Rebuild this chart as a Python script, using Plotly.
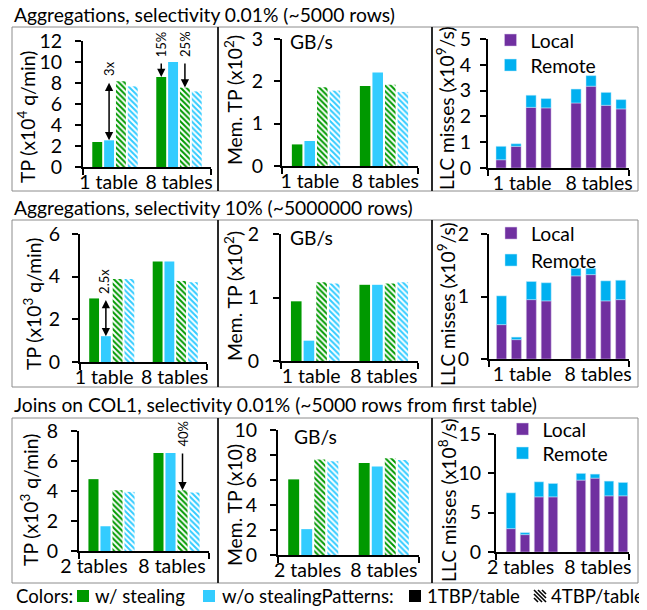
import plotly.graph_objects as go

W, H = 647, 610
OFF = 8  # page body margin offset in the browser
FONT = "Lato"
FS = 19.3      # general text size
KEY_FS = 18.6
TICK_FS = 19.5
GREEN = "#009900"
BLUE = "#33CCFF"
PURPLE = "#7030A0"
REMOTE = "#00B0F0"

# ---------------- data ----------------
row_titles = [
    "Aggregations, selectivity 0.01% (~5000 rows)",
    "Aggregations, selectivity 10% (~5000000 rows)",
    "Joins on COL1, selectivity 0.01% (~5000 rows from first table)",
]
cats_r1 = ["1 table", "8 tables"]
cats_r2 = ["1 table", "8 tables"]
cats_r3 = ["2 tables", "8 tables"]

series_names = ["w/ stealing, 1TBP/table", "w/o stealing, 1TBP/table",
                "w/ stealing, 4TBP/table", "w/o stealing, 4TBP/table"]

# Row 1 - throughput (x10^4 q/min)
r1_tp_ws_1 = [2.38, 8.57]
r1_tp_wo_1 = [2.54, 10.0]
r1_tp_ws_4 = [8.16, 7.56]
r1_tp_wo_4 = [7.68, 7.20]
# Row 1 - memory throughput (x10^2 GB/s)
r1_mem_ws_1 = [0.51, 1.89]
r1_mem_wo_1 = [0.59, 2.21]
r1_mem_ws_4 = [1.86, 1.92]
r1_mem_wo_4 = [1.78, 1.75]
# Row 1 - LLC misses (x10^9/s)
r1_llc_local = [0.32, 0.84, 2.35, 2.33, 2.52, 3.17, 2.43, 2.29]
r1_llc_remote = [0.52, 0.10, 0.47, 0.36, 0.54, 0.41, 0.50, 0.36]

# Row 2
r2_tp_ws_1 = [2.98, 4.71]
r2_tp_wo_1 = [1.21, 4.71]
r2_tp_ws_4 = [3.89, 3.80]
r2_tp_wo_4 = [3.89, 3.74]
r2_mem_ws_1 = [0.94, 1.20]
r2_mem_wo_1 = [0.32, 1.20]
r2_mem_ws_4 = [1.24, 1.22]
r2_mem_wo_4 = [1.22, 1.24]
r2_llc_local = [0.55, 0.31, 0.95, 0.93, 1.33, 1.35, 0.93, 0.95]
r2_llc_remote = [0.46, 0.04, 0.29, 0.29, 0.12, 0.10, 0.32, 0.31]

# Row 3
r3_tp_ws_1 = [4.79, 6.53]
r3_tp_wo_1 = [1.65, 6.53]
r3_tp_ws_4 = [4.05, 4.05]
r3_tp_wo_4 = [3.94, 3.90]
r3_mem_ws_1 = [6.05, 7.37]
r3_mem_wo_1 = [2.07, 7.08]
r3_mem_ws_4 = [7.64, 7.75]
r3_mem_wo_4 = [7.50, 7.61]
r3_llc_local = [2.97, 2.21, 7.01, 7.01, 9.14, 9.39, 7.14, 7.14]
r3_llc_remote = [4.55, 0.25, 1.91, 1.70, 0.85, 0.51, 1.87, 1.70]

tp_titles = ["TP (x10<sup>4</sup> q/min)", "TP (x10<sup>3</sup> q/min)", "TP (x10<sup>3</sup> q/min)"]
mem_titles = ["Mem. TP (x10<sup>2</sup>)", "Mem. TP (x10<sup>2</sup>)", "Mem. TP (x10)"]
llc_titles = ["LLC misses (x10<sup>9</sup>/s)", "LLC misses (x10<sup>9</sup>/s)", "LLC misses (x10<sup>8</sup>/s)"]

tp_ticks = [[0, 2, 4, 6, 8, 10, 12], [0, 2, 4, 6], [0, 2, 4, 6, 8]]
mem_ticks = [[0, 1, 2, 3], [0, 1, 2], [0, 2, 4, 6, 8, 10]]
llc_ticks = [[0, 1, 2, 3, 4, 5], [0, 1, 2], [0, 5, 10, 15]]

rows = [
    dict(cats=cats_r1, tp=[r1_tp_ws_1, r1_tp_wo_1, r1_tp_ws_4, r1_tp_wo_4],
         mem=[r1_mem_ws_1, r1_mem_wo_1, r1_mem_ws_4, r1_mem_wo_4],
         local=r1_llc_local, remote=r1_llc_remote),
    dict(cats=cats_r2, tp=[r2_tp_ws_1, r2_tp_wo_1, r2_tp_ws_4, r2_tp_wo_4],
         mem=[r2_mem_ws_1, r2_mem_wo_1, r2_mem_ws_4, r2_mem_wo_4],
         local=r2_llc_local, remote=r2_llc_remote),
    dict(cats=cats_r3, tp=[r3_tp_ws_1, r3_tp_wo_1, r3_tp_ws_4, r3_tp_wo_4],
         mem=[r3_mem_ws_1, r3_mem_wo_1, r3_mem_ws_4, r3_mem_wo_4],
         local=r3_llc_local, remote=r3_llc_remote),
]

# ---------------- layout geometry (pixels in the window) ----------------
areas = [
    [(83, 211, 41, 167), (282, 418, 39, 166), (488, 629, 39, 168)],
    [(80, 207, 234, 362), (281, 418, 234, 361), (489, 629, 234, 359)],
    [(79, 209, 431, 551), (278, 419, 430, 555), (496, 629, 434, 552)],
]
llc_xrange = [[-0.87, 8.53], [-0.84, 8.56], [-1.07, 8.43]]
# x positions of category labels (Excel nudges them to avoid overlap)
label_pos = [
    [[-0.10, 1.0], [-0.09, 1.02], [1.4, 6.53]],
    [[-0.12, 0.99], [-0.06, 1.0], [1.38, 6.48]],
    [[-0.27, 0.93], [-0.08, 1.0], [0.68, 6.2]],
]
std_off = [[9, 7, 5], [8, 10, 8], [9, 9, 3]]
boxes = [(27, 191), (220, 387), (418, 583)]
title_y = [15, 208, 404]
ytitle_pos = [
    [(26, 117), (233, 100), (446, 108)],
    [(32, 304), (233, 296), (446, 304)],
    [(29, 500), (234, 505), (447, 500)],
]
gbs_pos = [(288, 42), (288, 238), (292, 436)]
# legend icon centres: (x, y_local, y_remote)
legend_pos = [(510.5, 41, 66), (511, 234, 261), (522.5, 430, 454)]

STEP = 0.185
BW = 0.155
LLC_W = 0.67


def px_x(v):
    return (v - OFF) / W


def px_y(v):
    return 1 - (v - OFF) / H


fig = go.Figure()
annotations = []
shapes = []
layout_axes = {}

colors = [GREEN, BLUE, GREEN, BLUE]
hatched = [False, False, True, True]
leg_n = 2

for r, row in enumerate(rows):
    for c in range(3):
        k = r * 3 + c + 1
        xa = "x" if k == 1 else f"x{k}"
        ya = "y" if k == 1 else f"y{k}"
        x0, x1, yt, yb = areas[r][c]
        common_x = dict(domain=[px_x(x0), px_x(x1)], anchor=ya, showline=True,
                        linecolor="black", linewidth=2, showgrid=False, zeroline=False,
                        ticks="", tickangle=0, automargin=False, ticklabelstandoff=-3,
                        tickvals=label_pos[r][c], ticktext=row["cats"],
                        tickfont=dict(size=TICK_FS, family=FONT), fixedrange=True)
        if c < 2:
            vals = row["tp"] if c == 0 else row["mem"]
            yticks = (tp_ticks if c == 0 else mem_ticks)[r]
            for j in range(4):
                marker = dict(color=colors[j], line=dict(width=0))
                if hatched[j]:
                    marker["pattern"] = dict(shape="\\", fgcolor=colors[j], bgcolor="white",
                                             size=4, solidity=0.5, fillmode="replace")
                fig.add_trace(go.Bar(
                    x=[i + (j - 1.5) * STEP for i in range(len(row["cats"]))],
                    y=vals[j], width=BW, marker=marker, name=series_names[j],
                    xaxis=xa, yaxis=ya, showlegend=False, hoverinfo="skip"))
            rng = [-0.5, 1.5]
        else:
            yticks = llc_ticks[r]
            pos = [g * 5 + b for g in range(2) for b in range(4)]
            lx, ly1, ly2 = legend_pos[r]
            for name, vals, col, lcol, ly in [("Local", row["local"], PURPLE, "#d9c8ea", ly1),
                                               ("Remote", row["remote"], REMOTE, "#bfe9fb", ly2)]:
                leg = f"legend{leg_n}"
                leg_n += 1
                fig.add_trace(go.Bar(x=pos, y=vals, width=LLC_W, name=name,
                                     marker=dict(color=col, line=dict(width=0.5, color=lcol)),
                                     xaxis=xa, yaxis=ya, legend=leg, hoverinfo="skip"))
                layout_axes[leg] = dict(
                    x=px_x(lx - 20), y=px_y(ly - 20), xanchor="left", yanchor="top",
                    bgcolor="rgba(0,0,0,0)", font=dict(size=FS, family=FONT),
                    itemclick=False, itemdoubleclick=False)
            rng = llc_xrange[r]
        layout_axes["xaxis" if k == 1 else f"xaxis{k}"] = dict(
            common_x, range=rng,
            minor=dict(tickmode="array", tickvals=[rng[0] + 0.001, rng[1] - 0.001],
                       ticks="outside", ticklen=6, tickwidth=1.5, tickcolor="black"))
        layout_axes["yaxis" if k == 1 else f"yaxis{k}"] = dict(
            domain=[px_y(yb), px_y(yt)], anchor=xa, range=[0, yticks[-1]], tickvals=yticks,
            showline=True, linecolor="black", linewidth=2, showgrid=False, zeroline=False,
            ticks="outside", ticklen=6, tickwidth=1.5, tickcolor="black",
            ticklabelstandoff=std_off[r][c], automargin=False,
            tickfont=dict(size=TICK_FS, family=FONT), fixedrange=True)
        # y axis titles
        tx, ty = ytitle_pos[r][c]
        ttl = [tp_titles, mem_titles, llc_titles][c][r]
        annotations.append(dict(text=ttl, x=px_x(tx), y=px_y(ty), xref="paper", yref="paper",
                                textangle=-90, showarrow=False, xanchor="center", yanchor="middle",
                                font=dict(size=FS, family=FONT)))
    # GB/s
    gx, gy = gbs_pos[r]
    annotations.append(dict(text="GB/s", x=px_x(gx), y=px_y(gy), xref="paper", yref="paper",
                            showarrow=False, xanchor="left", yanchor="middle",
                            font=dict(size=FS, family=FONT)))
    # section title
    annotations.append(dict(text=row_titles[r], x=px_x(12), y=px_y(title_y[r]), xref="paper",
                            yref="paper", showarrow=False, xanchor="left", yanchor="middle",
                            font=dict(size=FS, family=FONT)))
    # boxes
    bt, bb = boxes[r]
    for (a, b) in [(12, 218), (218, 432), (432, 638)]:
        shapes.append(dict(type="rect", xref="paper", yref="paper", x0=px_x(a), x1=px_x(b),
                           y0=px_y(bb), y1=px_y(bt), line=dict(color="#8c8c8c", width=1)))
    for a in (218, 432):
        shapes.append(dict(type="line", xref="paper", yref="paper", x0=px_x(a), x1=px_x(a),
                           y0=px_y(bb), y1=px_y(bt), line=dict(color="black", width=1.5)))


# ---------------- arrow annotations ----------------
def arrow(xa, ya, x, y_from, y_to, both=False):
    annotations.append(dict(x=x, y=y_to, ax=x, ay=y_from, xref=xa, yref=ya, axref=xa, ayref=ya,
                            text="", showarrow=True, arrowhead=2, arrowsize=1.1, arrowwidth=1.5,
                            arrowcolor="black", standoff=0, startstandoff=0,
                            arrowside="end+start" if both else "end", startarrowhead=2,
                            startarrowsize=1.1))


def label(xa, ya, x, y, txt, yshift=3):
    annotations.append(dict(x=x, y=y, xref=xa, yref=ya, text=txt, showarrow=False,
                            textangle=-90, xanchor="center", yanchor="bottom", yshift=yshift,
                            font=dict(size=13, family=FONT)))


xb = 0 + (1 - 1.5) * STEP
arrow("x", "y", xb, r1_tp_ws_4[0], r1_tp_wo_1[0], both=True)
label("x", "y", xb, r1_tp_ws_4[0], "3x")
xg = 1 + (0 - 1.5) * STEP
arrow("x", "y", xg, 10.0, r1_tp_ws_1[1])
label("x", "y", xg, 10.0, "15%")
xh = 1 + (2 - 1.5) * STEP
arrow("x", "y", xh, 10.0, r1_tp_ws_4[1])
label("x", "y", xh, 10.0, "25%")
arrow("x4", "y4", xb, r2_tp_ws_1[0], r2_tp_wo_1[0], both=True)
label("x4", "y4", xb - 0.03, r2_tp_ws_1[0], "2.5x")
arrow("x7", "y7", xh, 6.6, r3_tp_ws_4[1])
label("x7", "y7", xh, 6.6, "40%")

# ---------------- bottom key ----------------
ky = 596
key_items = [("Colors:", 14), ("w/ stealing", 93), ("w/o stealingPatterns:", 220),
             ("1TBP/table", 425), ("4TBP/table", 549)]
for txt, xx in key_items:
    annotations.append(dict(text=txt, x=px_x(xx), y=px_y(ky), xref="paper", yref="paper",
                            showarrow=False, xanchor="left", yanchor="middle",
                            font=dict(size=KEY_FS, family=FONT)))
for xx, col in [(77, GREEN), (203, BLUE), (409, "black")]:
    shapes.append(dict(type="rect", xref="paper", yref="paper", x0=px_x(xx), x1=px_x(xx + 12),
                       y0=px_y(ky + 6), y1=px_y(ky - 6), line=dict(width=0), fillcolor=col))
hx = 534
for (ax0, ay0, ax1, ay1) in [(0, 0, 12, 12), (4, 0, 12, 8), (8, 0, 12, 4), (0, 4, 8, 12), (0, 8, 4, 12)]:
    shapes.append(dict(type="line", xref="paper", yref="paper",
                       x0=px_x(hx + ax0), y0=px_y(ky - 6 + ay0), x1=px_x(hx + ax1), y1=px_y(ky - 6 + ay1),
                       line=dict(color="black", width=1.6)))

fig.update_layout(
    width=W, height=H, margin=dict(l=0, r=0, t=0, b=0),
    paper_bgcolor="white", plot_bgcolor="white",
    font=dict(family=FONT, size=FS, color="black"),
    barmode="relative", showlegend=True,
    annotations=annotations, shapes=shapes, **layout_axes)

fig.write_html("out.html")
